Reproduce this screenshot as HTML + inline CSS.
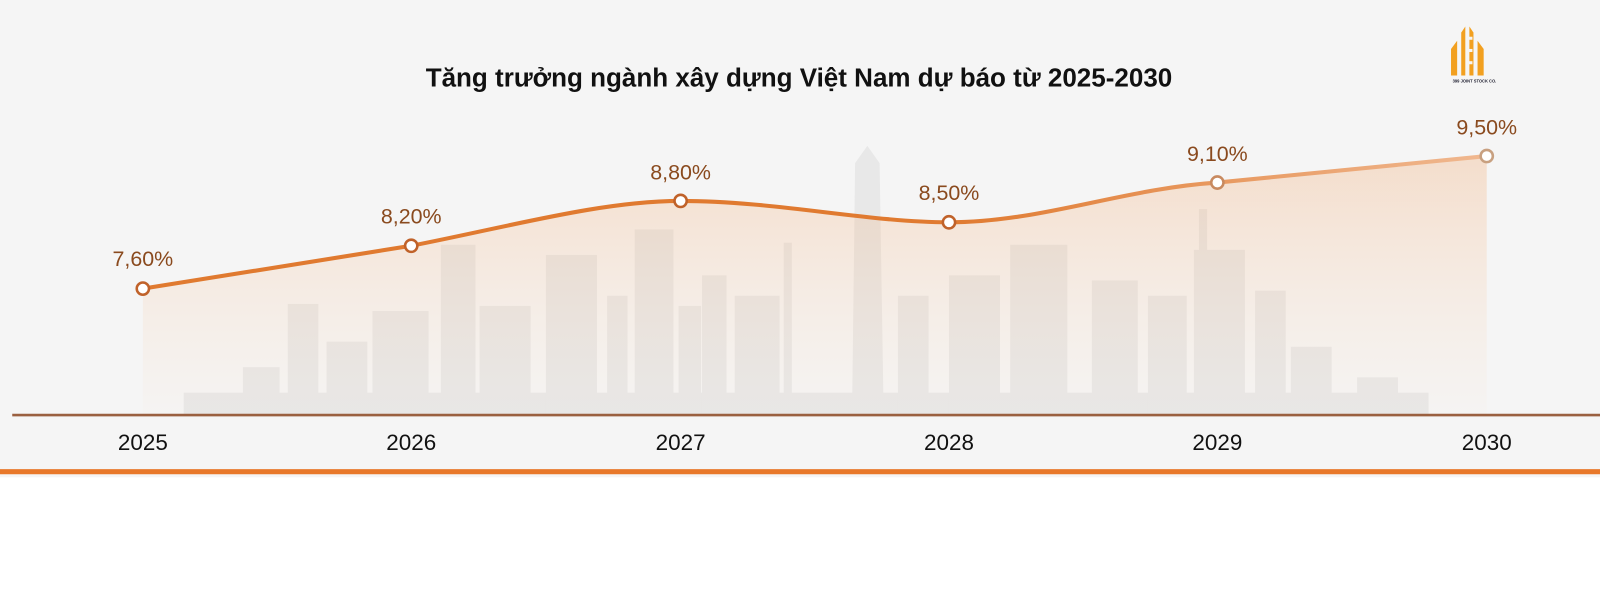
<!DOCTYPE html>
<html><head><meta charset="utf-8"><style>
html,body{margin:0;padding:0;background:#fff}
body{width:1600px;height:616px;overflow:hidden;font-family:"Liberation Sans",sans-serif}
svg{display:block}
</style></head><body>
<svg width="1600" height="616" viewBox="0 0 1568 604" preserveAspectRatio="none" xmlns="http://www.w3.org/2000/svg">
<defs>
<linearGradient id="ar" x1="0" y1="0" x2="0" y2="1">
<stop offset="0" stop-color="#f3a060" stop-opacity="0.28"/>
<stop offset="1" stop-color="#f7c9a0" stop-opacity="0.03"/>
</linearGradient>
<linearGradient id="ln" x1="0" y1="0" x2="1" y2="0">
<stop offset="0" stop-color="#e07a30"/><stop offset="0.6" stop-color="#e07a30"/><stop offset="1" stop-color="#f0b890"/>
</linearGradient>
</defs>
<rect x="0" y="0" width="1568" height="468" fill="#f5f5f5"/>
<g fill="#e8e8e8">
<rect x="180" y="385" width="1220" height="22"/>
<rect x="238" y="360" width="36" height="47"/>
<rect x="282" y="298" width="30" height="109"/>
<rect x="320" y="335" width="40" height="72"/>
<rect x="365" y="305" width="55" height="102"/>
<rect x="432" y="240" width="34" height="167"/>
<rect x="470" y="300" width="50" height="107"/>
<rect x="535" y="250" width="50" height="157"/>
<rect x="595" y="290" width="20" height="117"/>
<rect x="622" y="225" width="38" height="182"/>
<rect x="665" y="300" width="22" height="107"/>
<rect x="688" y="270" width="24" height="137"/>
<rect x="720" y="290" width="44" height="117"/>
<rect x="768" y="238" width="8" height="169"/>
<polygon points="835,407 838,160 850,143 862,160 866,407"/>
<rect x="880" y="290" width="30" height="117"/>
<rect x="930" y="270" width="50" height="137"/>
<rect x="990" y="240" width="56" height="167"/>
<rect x="1070" y="275" width="45" height="132"/>
<rect x="1125" y="290" width="38" height="117"/>
<rect x="1175" y="205" width="8" height="202"/>
<rect x="1170" y="245" width="50" height="162"/>
<rect x="1230" y="285" width="30" height="122"/>
<rect x="1265" y="340" width="40" height="67"/>
<rect x="1330" y="370" width="40" height="37"/>
</g>
<path d="M140,283 C230,268 320,255 403,241 C500,222 590,197 667,197 C760,197 850,218 930,218 C1020,218 1100,185 1193,179 C1290,170 1380,160 1457,153 L1457,407 L140,407 Z" fill="url(#ar)"/>
<path d="M140,283 C230,268 320,255 403,241 C500,222 590,197 667,197 C760,197 850,218 930,218 C1020,218 1100,185 1193,179 C1290,170 1380,160 1457,153" fill="none" stroke="url(#ln)" stroke-width="4"/>
<g fill="#fff" stroke-width="2.5">
<circle cx="140" cy="283" r="6" stroke="#c0622a"/>
<circle cx="403" cy="241" r="6" stroke="#c0622a"/>
<circle cx="667" cy="197" r="6" stroke="#c0622a"/>
<circle cx="930" cy="218" r="6" stroke="#c0622a"/>
<circle cx="1193" cy="179" r="6" stroke="#c88a60"/>
<circle cx="1457" cy="153" r="6" stroke="#c8a080"/>
</g>
<g font-size="21" fill="#8a4a1e" text-anchor="middle">
<text x="140" y="261">7,60%</text>
<text x="403" y="219">8,20%</text>
<text x="667" y="176">8,80%</text>
<text x="930" y="196">8,50%</text>
<text x="1193" y="158">9,10%</text>
<text x="1457" y="132">9,50%</text>
</g>
<line x1="12" y1="407" x2="1568" y2="407" stroke="#9a6040" stroke-width="2.5"/>
<g font-size="22" fill="#111" text-anchor="middle">
<text x="140" y="441">2025</text>
<text x="403" y="441">2026</text>
<text x="667" y="441">2027</text>
<text x="930" y="441">2028</text>
<text x="1193" y="441">2029</text>
<text x="1457" y="441">2030</text>
</g>
<rect x="0" y="460" width="1568" height="5" fill="#e8782a"/>
<text x="783" y="85" font-size="25.5" font-weight="bold" fill="#111" text-anchor="middle">Tăng trưởng ngành xây dựng Việt Nam dự báo từ 2025-2030</text>
<g fill="#f2a020">
<polygon points="1422,74 1422,48 1428,40 1428,74"/>
<polygon points="1432,74 1432,32 1436,26 1436,74"/>
<polygon points="1440,74 1440,26 1444,32 1444,74"/>
<polygon points="1448,74 1448,40 1454,48 1454,74"/>
<rect x="1437" y="36" width="6" height="3" fill="#f5f5f5"/>
<rect x="1437" y="48" width="6" height="3" fill="#f5f5f5"/>
<rect x="1437" y="60" width="6" height="3" fill="#f5f5f5"/>
</g>
<text x="1445" y="81" font-size="4" font-weight="bold" fill="#223" text-anchor="middle">399 JOINT STOCK CO.</text>
</svg>
</body></html>
